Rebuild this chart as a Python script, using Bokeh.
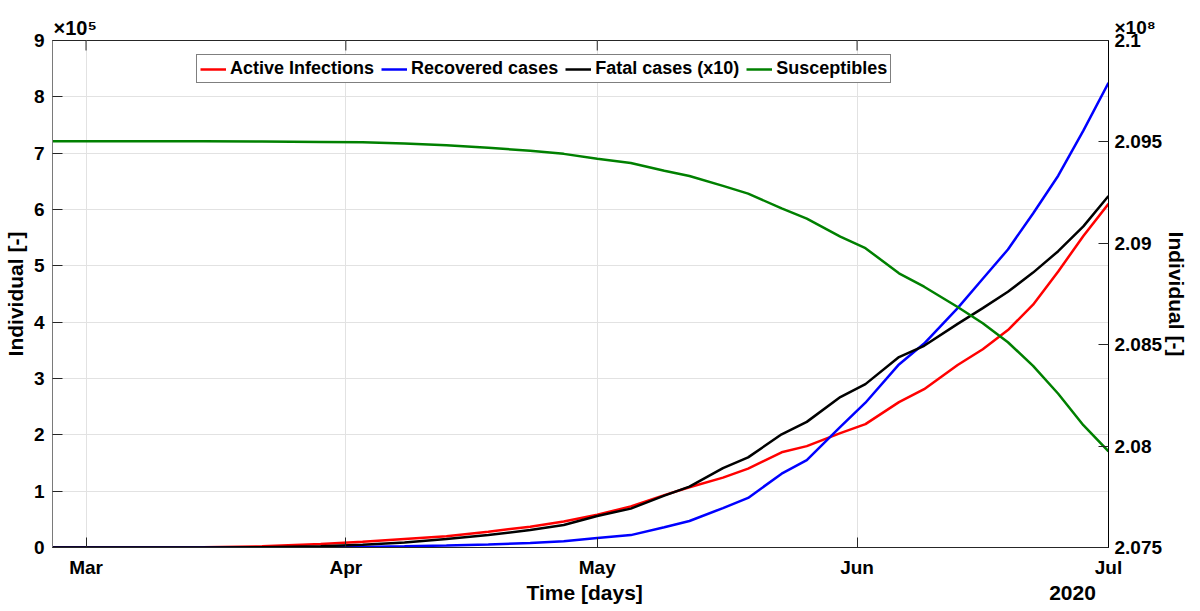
import numpy as np
import pandas as pd
from bokeh.plotting import figure
from bokeh.models import (Range1d, LinearAxis, DatetimeAxis, FixedTicker,
                          DatetimeTickFormatter, CustomJSTickFormatter,
                          Legend, LegendItem)
from bokeh.embed import file_html
from bokeh.resources import INLINE

# ---------------- data ----------------
dates = ["2020-02-26", "2020-03-01", "2020-03-08", "2020-03-15", "2020-03-22",
         "2020-03-29", "2020-04-03", "2020-04-08", "2020-04-13", "2020-04-18",
         "2020-04-23", "2020-04-27", "2020-05-01", "2020-05-05", "2020-05-09",
         "2020-05-12", "2020-05-16", "2020-05-19", "2020-05-23", "2020-05-26",
         "2020-05-30", "2020-06-02", "2020-06-06", "2020-06-09", "2020-06-13",
         "2020-06-16", "2020-06-19", "2020-06-22", "2020-06-25", "2020-06-28",
         "2020-07-01"]

active_infections = [0, 0, 0, 500, 2000, 6000, 10000, 15000, 20000, 28000,
                     37000, 46000, 58000, 73000, 93000, 107000, 124000, 140000,
                     169000, 180000, 203000, 219000, 258000, 281000, 324000,
                     352000, 386000, 431000, 490000, 553000, 610000]

recovered_cases = [0, 0, 0, 0, 0, 300, 1000, 2000, 3500, 5500,
                   8000, 11000, 17000, 22000, 36000, 47000, 70000, 88000,
                   131000, 155000, 214000, 257000, 325000, 362000, 425000,
                   477000, 529000, 593000, 660000, 740000, 825000]

fatal_cases_x10 = [0, 0, 0, 0, 500, 2000, 5000, 9000, 15000, 22000,
                   31000, 40000, 56000, 69000, 92000, 108000, 141000, 160000,
                   201000, 223000, 267000, 290000, 338000, 358000, 397000,
                   425000, 454000, 488000, 526000, 570000, 624000]

susceptibles = [209503000, 209503000, 209503000, 209503000, 209502000,
                209500000, 209498000, 209492000, 209483000, 209471000,
                209456000, 209441000, 209417000, 209396000, 209358000,
                209332000, 209283000, 209245000, 209172000, 209122000,
                209033000, 208976000, 208852000, 208786000, 208686000,
                208606000, 208512000, 208396000, 208258000, 208103000,
                207974000]

month_ticks = ["2020-03-01", "2020-04-01", "2020-05-01", "2020-06-01", "2020-07-01"]
left_ticks = [0, 100000, 200000, 300000, 400000, 500000, 600000, 700000, 800000, 900000]
right_ticks = [207500000, 208000000, 208500000, 209000000, 209500000, 210000000]

x_start = "2020-02-26"
x_end = "2020-07-01"
y_left_max = 900000

# ---------------- figure ----------------
FONT = "Liberation Sans"
x = pd.to_datetime(dates)
xs = pd.Timestamp(x_start).to_pydatetime()
xe = pd.Timestamp(x_end).to_pydatetime()

def ms(s):
    return int(pd.Timestamp(s).value // 10**6)

month_ms = [ms(m) for m in month_ticks]

p = figure(width=1191, height=606, x_axis_type="datetime",
           x_range=Range1d(xs, xe), y_range=Range1d(0, y_left_max),
           output_backend="svg", toolbar_location=None,
           min_border_left=45, min_border_right=80,
           min_border_top=40, min_border_bottom=55)
p.extra_y_ranges = {"right": Range1d(207500000, 210000000)}
p.background_fill_color = "white"
p.border_fill_color = "white"
p.outline_line_color = "#262626"
p.outline_line_width = 1

def style_axis(ax, line_color="#262626", size="19px"):
    ax.major_tick_in = 10
    ax.major_tick_out = 0
    ax.minor_tick_in = 0
    ax.minor_tick_out = 0
    ax.minor_tick_line_color = None
    ax.major_tick_line_color = "#262626"
    ax.axis_line_color = line_color
    ax.major_label_text_font = FONT
    ax.major_label_text_font_style = "bold"
    ax.major_label_text_font_size = size
    ax.major_label_text_color = "black"
    ax.axis_label_text_font = FONT
    ax.axis_label_text_font_style = "bold"
    ax.axis_label_text_font_size = "21px"
    ax.axis_label_text_color = "black"

# bottom axis (month ticks)
xa = p.xaxis[0]
xa.ticker = FixedTicker(ticks=month_ms)
xa.formatter = DatetimeTickFormatter(days="%b", months="%b", years="%b")
style_axis(xa)
xa.major_label_standoff = 9

# second bottom row: axis title and year
t_title = ms("2020-04-29 12:00")
t_year = ms("2020-06-26 17:00")
xb = DatetimeAxis(ticker=FixedTicker(ticks=[t_title, t_year]),
                  major_label_overrides={t_title: "Time [days]", t_year: "2020"})
style_axis(xb, line_color=None, size="21px")
xb.major_tick_line_color = None
xb.major_tick_in = 0
xb.major_label_standoff = 0
p.add_layout(xb, "below")

# top exponent for the left axis
t_exp = ms("2020-02-28 17:00")
top2 = DatetimeAxis(ticker=FixedTicker(ticks=[t_exp]),
                    major_label_overrides={t_exp: "×10⁵"})
style_axis(top2, line_color=None, size="20px")
top2.major_tick_line_color = None
top2.major_tick_in = 0
top2.major_label_standoff = 2
p.add_layout(top2, "above")

# inward month ticks on the top edge of the box (half clipped by the frame)
p.scatter(pd.to_datetime(month_ticks), [y_left_max] * len(month_ticks),
          marker="dash", size=20, angle=np.pi / 2,
          line_color="#262626", line_width=1)

# left axis
ya = p.yaxis[0]
ya.ticker = FixedTicker(ticks=left_ticks)
ya.formatter = CustomJSTickFormatter(code="return (tick/1e5).toFixed(0);")
style_axis(ya, line_color="#7a7a7a")
ya.axis_label = "Individual [-]"
ya.major_label_standoff = 8
ya.axis_label_standoff = 4

# right axis (exponent stacked above the top tick label)
ra = LinearAxis(y_range_name="right", ticker=FixedTicker(ticks=right_ticks),
                formatter=CustomJSTickFormatter(
                    code="var s = String(Math.round(tick/1e5)/1000);"
                         "return index == ticks.length - 1 ? '×10⁸\\n' + s + '\\n' : s;"))
style_axis(ra, line_color="black")
ra.major_label_text_line_height = 0.6
ra.axis_label = "Individual [-]"
ra.major_label_standoff = 6
ra.axis_label_standoff = 0
p.add_layout(ra, "right")

# grids
p.xgrid.ticker = FixedTicker(ticks=month_ms)
p.xgrid.grid_line_color = "#e2e2e2"
p.ygrid.grid_line_color = "#e2e2e2"
p.xgrid.grid_line_width = 1
p.ygrid.grid_line_width = 1

# lines
r_act = p.line(x, active_infections, line_color="#FF0000", line_width=2.5)
r_rec = p.line(x, recovered_cases, line_color="#0000FF", line_width=2.5)
r_fat = p.line(x, fatal_cases_x10, line_color="black", line_width=2.5)
r_sus = p.line(x, susceptibles, line_color="#008000", line_width=2.5, y_range_name="right")

legend = Legend(items=[LegendItem(label="Active Infections", renderers=[r_act]),
                       LegendItem(label="Recovered cases", renderers=[r_rec]),
                       LegendItem(label="Fatal cases (x10)", renderers=[r_fat]),
                       LegendItem(label="Susceptibles", renderers=[r_sus])],
                orientation="horizontal", location=(144, 464))
legend.border_line_color = "black"
legend.border_line_width = 1
legend.background_fill_color = "white"
legend.background_fill_alpha = 1
legend.label_text_font = FONT
legend.label_text_font_style = "bold"
legend.label_text_font_size = "18px"
legend.label_text_color = "black"
legend.glyph_width = 26
legend.glyph_height = 18
legend.label_height = 18
legend.label_standoff = 4
legend.spacing = 7
legend.padding = 3
legend.margin = 0
p.add_layout(legend)

open("out.html", "w").write(file_html(p, INLINE))
